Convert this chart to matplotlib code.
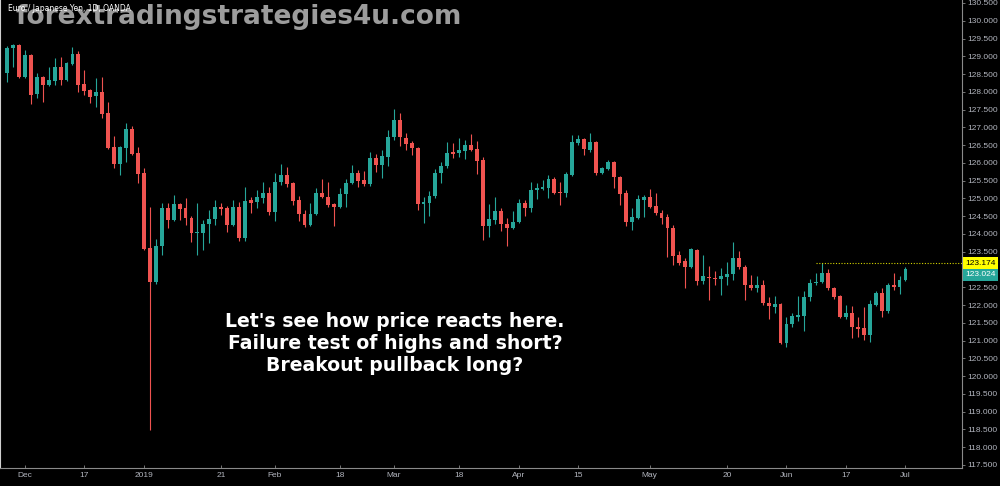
"""
EUR/JPY daily candles, Nov 2018 - Jul 2019 (TradingView style)
"""
import numpy as np
import pandas as pd
import matplotlib
matplotlib.use("Agg")
import matplotlib.pyplot as plt
import matplotlib.transforms as mtransforms

# trading days shown on the chart (no bars on Dec 25 and Jan 1)
dates = pd.bdate_range("2018-11-28", "2019-07-01")
dates = dates[~dates.isin(pd.to_datetime(["2018-12-25", "2019-01-01"]))]

opens = [
    128.53, 129.23, 129.32, 128.42, 129.04, 127.94, 128.42, 128.19, 128.30, 128.70,
    128.33, 128.78, 129.06, 128.22, 128.05, 127.88, 127.99, 127.40, 126.45, 125.97,
    126.42, 126.95, 126.28, 125.72, 123.61, 122.65, 123.66, 124.73, 124.39, 124.84,
    124.73, 124.45, 124.03, 124.03, 124.28, 124.42, 124.76, 124.73, 124.25, 124.76,
    123.89, 124.96, 124.90, 125.01, 125.15, 124.62, 125.46, 125.66, 125.43, 124.96,
    124.56, 124.25, 124.56, 125.15, 125.04, 124.84, 124.76, 125.13, 125.43, 125.72,
    125.52, 125.41, 126.14, 125.94, 126.17, 126.73, 127.21, 126.70, 126.56, 126.42,
    124.84, 124.87, 125.07, 125.72, 125.91, 126.31, 126.28, 126.33, 126.50, 126.39,
    126.08, 124.22, 124.39, 124.65, 124.28, 124.17, 124.34, 124.87, 124.73, 125.24,
    125.27, 125.29, 125.55, 125.18, 125.15, 125.66, 126.56, 126.67, 126.36, 126.59,
    125.72, 125.83, 126.03, 125.60, 125.15, 124.34, 124.45, 124.96, 125.04, 124.79,
    124.59, 124.48, 124.17, 123.41, 123.24, 123.07, 123.55, 122.68, 122.79, 122.76,
    122.73, 122.79, 122.87, 123.32, 123.07, 122.56, 122.48, 122.56, 122.06, 121.95,
    122.03, 120.93, 121.47, 121.66, 121.69, 122.23, 122.62, 122.65, 122.90, 122.48,
    122.25, 121.66, 121.78, 121.38, 121.35, 121.16, 122.00, 122.34, 121.83, 122.56,
    122.51, 122.70,
]
highs = [
    129.29, 129.35, 129.35, 129.18, 129.06, 128.53, 128.45, 128.70, 128.95, 128.98,
    128.84, 129.26, 129.15, 128.61, 128.08, 128.39, 128.42, 127.71, 126.76, 126.48,
    127.12, 127.04, 126.45, 125.86, 124.76, 123.86, 124.87, 124.87, 125.10, 124.87,
    125.01, 124.50, 124.87, 124.39, 124.67, 124.96, 124.87, 124.79, 124.96, 124.90,
    125.32, 125.04, 125.24, 125.46, 125.32, 125.72, 125.97, 125.88, 125.46, 125.07,
    124.67, 124.87, 125.29, 125.55, 125.46, 124.87, 125.29, 125.55, 125.94, 125.80,
    125.77, 126.31, 126.25, 126.36, 126.93, 127.52, 127.40, 126.84, 126.62, 126.45,
    125.04, 125.21, 125.83, 126.03, 126.59, 126.56, 126.70, 126.64, 126.81, 126.62,
    126.17, 124.84, 125.04, 124.73, 124.45, 124.65, 124.98, 124.96, 125.46, 125.43,
    125.52, 125.66, 125.60, 125.46, 125.74, 126.78, 126.78, 126.70, 126.84, 126.62,
    125.88, 126.08, 126.05, 125.63, 125.24, 124.73, 125.10, 125.10, 125.27, 125.15,
    124.67, 124.56, 124.25, 123.52, 123.32, 123.61, 123.58, 123.41, 123.10, 122.96,
    123.04, 123.21, 123.77, 123.52, 123.13, 122.85, 122.82, 122.70, 122.23, 122.25,
    122.06, 121.66, 121.78, 122.25, 122.39, 122.73, 122.90, 123.174, 123.01, 122.51,
    122.28, 122.00, 121.97, 121.66, 121.95, 122.14, 122.39, 122.48, 122.62, 122.90,
    122.82, 123.07,
]
lows = [
    128.28, 128.70, 128.39, 128.39, 127.66, 127.83, 127.71, 128.16, 128.19, 128.19,
    128.30, 128.75, 127.99, 127.91, 127.69, 127.57, 127.26, 126.39, 125.86, 125.66,
    126.03, 126.22, 125.43, 123.55, 118.48, 122.59, 123.41, 124.17, 124.36, 124.39,
    124.25, 123.77, 123.41, 123.55, 123.75, 124.25, 124.53, 124.06, 124.22, 123.80,
    123.80, 124.59, 124.73, 124.87, 124.53, 124.36, 125.38, 125.32, 124.82, 124.36,
    124.20, 124.22, 124.53, 125.00, 124.76, 124.22, 124.73, 124.76, 125.41, 125.32,
    125.35, 125.35, 125.74, 125.57, 125.91, 126.64, 126.48, 126.36, 126.22, 124.67,
    124.31, 124.51, 125.01, 125.43, 125.86, 126.14, 126.17, 126.11, 126.33, 125.69,
    123.83, 123.92, 124.28, 124.08, 123.66, 124.14, 124.31, 124.51, 124.62, 124.98,
    125.24, 125.01, 125.13, 124.82, 125.04, 125.63, 126.50, 126.22, 126.31, 125.66,
    125.69, 125.80, 125.29, 124.82, 124.22, 124.11, 124.42, 124.48, 124.73, 124.53,
    124.28, 123.35, 123.13, 123.13, 122.48, 123.04, 122.56, 122.59, 122.14, 122.56,
    122.28, 122.56, 122.70, 123.01, 122.14, 122.42, 122.37, 122.00, 121.61, 121.78,
    120.90, 120.82, 121.38, 121.55, 121.27, 122.11, 122.56, 122.62, 122.42, 122.17,
    121.64, 121.61, 121.07, 121.10, 121.02, 120.96, 121.97, 121.66, 121.78, 122.42,
    122.31, 122.68,
]
closes = [
    129.23, 129.32, 128.42, 129.04, 127.91, 128.42, 128.19, 128.33, 128.70, 128.33,
    128.81, 129.06, 128.19, 128.02, 127.85, 127.99, 127.38, 126.42, 125.97, 126.45,
    126.95, 126.25, 125.69, 123.58, 122.65, 123.66, 124.73, 124.39, 124.84, 124.70,
    124.45, 124.03, 124.06, 124.28, 124.42, 124.76, 124.70, 124.25, 124.76, 123.89,
    124.93, 124.87, 125.04, 125.15, 124.62, 125.46, 125.66, 125.41, 124.93, 124.56,
    124.25, 124.56, 125.15, 125.04, 124.82, 124.76, 125.13, 125.43, 125.72, 125.49,
    125.41, 126.14, 125.94, 126.19, 126.73, 127.21, 126.73, 126.53, 126.42, 124.84,
    124.90, 125.07, 125.72, 125.91, 126.28, 126.25, 126.36, 126.50, 126.36, 126.05,
    124.22, 124.42, 124.65, 124.28, 124.17, 124.34, 124.87, 124.73, 125.24, 125.29,
    125.32, 125.55, 125.15, 125.15, 125.69, 126.59, 126.67, 126.39, 126.59, 125.72,
    125.86, 126.03, 125.60, 125.13, 124.34, 124.48, 124.98, 125.04, 124.76, 124.59,
    124.45, 124.17, 123.38, 123.18, 123.07, 123.58, 122.68, 122.82, 122.76, 122.73,
    122.82, 122.87, 123.32, 123.07, 122.56, 122.48, 122.56, 122.06, 121.97, 122.03,
    120.93, 121.47, 121.69, 121.72, 122.23, 122.62, 122.65, 122.90, 122.48, 122.23,
    121.66, 121.78, 121.38, 121.33, 121.16, 122.03, 122.34, 121.83, 122.56, 122.51,
    122.70, 123.024,
]

tick_dates = ["2018-12-03", "2018-12-17", "2019-01-02", "2019-01-21", "2019-02-01",
              "2019-02-18", "2019-03-01", "2019-03-18", "2019-04-01", "2019-04-15",
              "2019-05-01", "2019-05-20", "2019-06-03", "2019-06-17", "2019-07-01"]
tick_labels = ["Dec", "17", "2019", "21", "Feb", "18", "Mar", "18", "Apr", "15",
               "May", "20", "Jun", "17", "Jul"]

swing_high = 123.174
swing_day = "2019-06-10"
last_price = 123.024

UP = "#26a69a"
DOWN = "#ef5350"
AXIS_TXT = "#b2b5be"
AXIS_FONT = "Liberation Sans"

o = np.array(opens)
h = np.array(highs)
l = np.array(lows)
c = np.array(closes)
x = np.arange(len(dates))
colors = np.where(c >= o, UP, DOWN)

fig = plt.figure(figsize=(10, 4.86), dpi=100, facecolor="black")
ax = fig.add_axes([0, 18 / 486, 0.962, 468 / 486])
ax.set_facecolor("black")

# wicks and bodies
ax.vlines(x, l, h, colors=colors, linewidth=0.8, zorder=2)
body = np.maximum(np.abs(c - o), 0.025)
ax.bar(x, body, bottom=np.minimum(o, c), width=0.65, color=colors,
       linewidth=0, zorder=3)

ax.set_xlim(-1.18, 160.5)
ax.set_ylim(117.415, 130.584)

# swing high marker line
sx = dates.get_loc(pd.Timestamp(swing_day))
ax.hlines(swing_high, sx, 160.5, colors="#d4d400", linestyles=(0, (1, 1.5)),
          linewidth=0.8, zorder=4)

# price scale
yt = [t for t in np.arange(117.5, 130.51, 0.5) if abs(t - 123.0) > 1e-6]
ax.yaxis.tick_right()
ax.set_yticks(yt)
ax.set_yticklabels([f"{t:.3f}" for t in yt], fontfamily=AXIS_FONT)
ax.tick_params(axis="y", colors="#888888", labelcolor=AXIS_TXT, labelsize=6,
               length=2.5, width=0.6, pad=1.5)

# time scale
xt = [dates.get_loc(pd.Timestamp(d)) for d in tick_dates]
ax.set_xticks(xt)
ax.set_xticklabels(tick_labels, fontfamily=AXIS_FONT)
ax.tick_params(axis="x", colors="#888888", labelcolor=AXIS_TXT, labelsize=6,
               length=2, width=0.6, pad=3, direction="in")

ax.spines["top"].set_visible(False)
ax.spines["right"].set_color("#8a8a8a")
ax.spines["bottom"].set_color("#8a8a8a")
ax.spines["left"].set_color("#d0d0d0")
for s in ["right", "bottom", "left"]:
    ax.spines[s].set_linewidth(0.8)

# price labels on the scale (last price sits just under the swing high box)
trans = mtransforms.blended_transform_factory(ax.transAxes, ax.transData)
ax.annotate(f"{swing_high:.3f}", xy=(1.0, swing_high), xycoords=trans,
            xytext=(2.5, 0), textcoords="offset points", ha="left", va="center",
            fontsize=6, fontfamily=AXIS_FONT, color="black", annotation_clip=False,
            zorder=6, bbox=dict(boxstyle="square,pad=0.3", fc="#ffff00", ec="none"))
ax.annotate(f"{last_price:.3f}", xy=(1.0, last_price), xycoords=trans,
            xytext=(2.5, -4.2), textcoords="offset points", ha="left", va="center",
            fontsize=6, fontfamily=AXIS_FONT, color="white", annotation_clip=False,
            zorder=6, bbox=dict(boxstyle="square,pad=0.3", fc=UP, ec="none"))

# watermark and title
fig.text(0.015, 0.965, "forextradingstrategies4u.com", color="#9c9c9c",
         fontsize=19, fontweight="bold", va="center", ha="left", zorder=1)
fig.text(0.008, 0.983, "Euro / Japanese Yen, 1D, OANDA", color="white",
         fontsize=5.5, va="center", ha="left", zorder=2)

fig.text(0.395, 0.294,
         "Let's see how price reacts here.\nFailure test of highs and short?\nBreakout pullback long?",
         color="white", fontsize=13.6, fontweight="bold", ha="center",
         va="center", multialignment="center", linespacing=1.2)

fig.savefig("out.png", dpi=100, facecolor="black")
